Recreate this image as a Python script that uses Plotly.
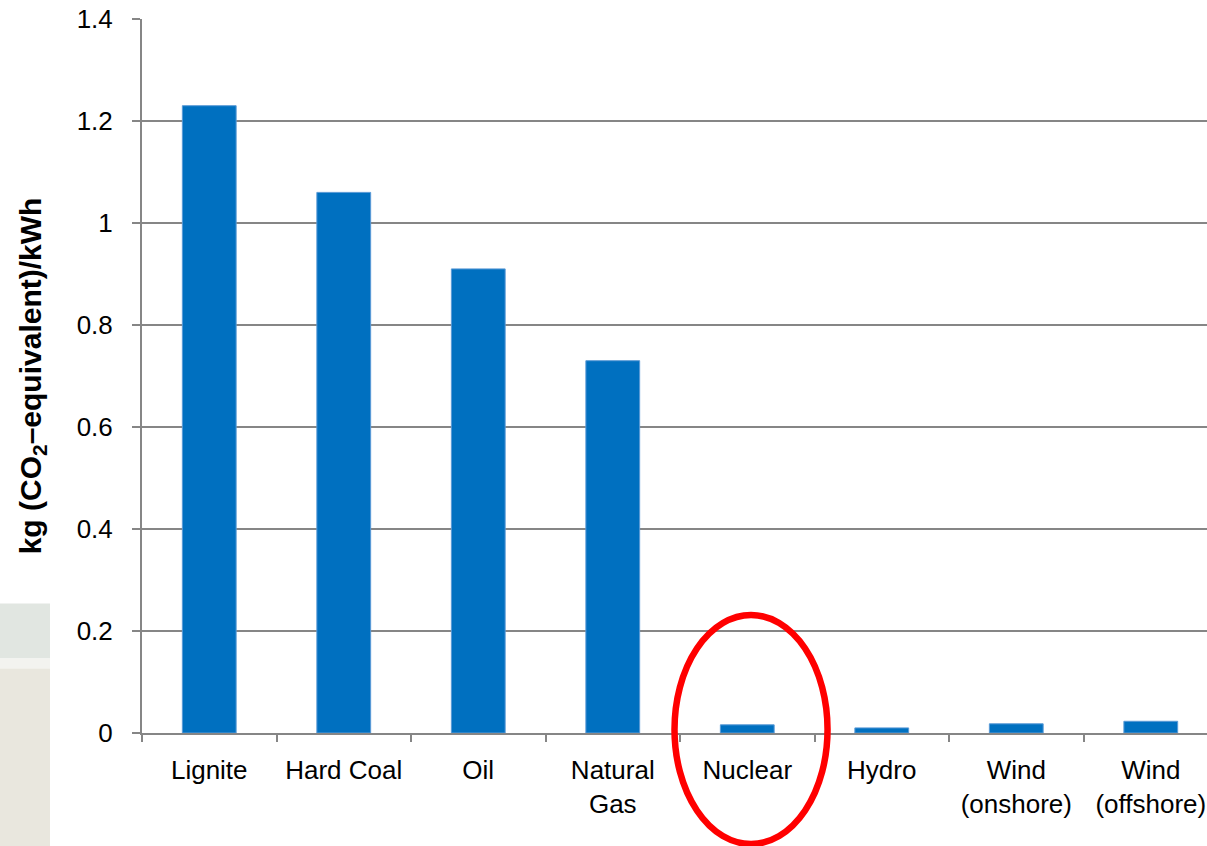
import plotly.graph_objects as go

# Life-cycle greenhouse gas emissions per kWh by generation technology
categories = ["Lignite", "Hard Coal", "Oil", "Natural<br>Gas", "Nuclear",
              "Hydro", "Wind<br>(onshore)", "Wind<br>(offshore)"]
emissions = [1.23, 1.06, 0.91, 0.73, 0.016, 0.010, 0.018, 0.023]
y_ticks = [0, 0.2, 0.4, 0.6, 0.8, 1, 1.2, 1.4]
y_tick_text = ["0", "0.2", "0.4", "0.6", "0.8", "1", "1.2", "1.4"]

FONT = "Liberation Sans, Arial, sans-serif"
AXIS_GREY = "#868686"

fig = go.Figure(
    go.Bar(
        x=categories,
        y=emissions,
        marker=dict(color="#0070C0", line=dict(color="#5A9AD6", width=1)),
        showlegend=False,
    )
)

fig.update_layout(
    width=1207,
    height=846,
    margin=dict(l=142, r=0, t=19, b=113),
    paper_bgcolor="white",
    plot_bgcolor="white",
    bargap=0.6,
    font=dict(family=FONT, size=26, color="#000000"),
    xaxis=dict(
        type="category",
        range=[-0.5, 7.418],
        showline=True,
        linecolor=AXIS_GREY,
        linewidth=2,
        ticks="outside",
        tickson="boundaries",
        ticklen=7,
        tickcolor=AXIS_GREY,
        tickwidth=1.5,
        showgrid=False,
        tickfont=dict(family=FONT, size=26, color="#000000"),
        ticklabelstandoff=13,
    ),
    yaxis=dict(
        range=[0, 1.4],
        tickvals=y_ticks,
        ticktext=y_tick_text,
        showline=True,
        linecolor=AXIS_GREY,
        linewidth=2,
        ticks="outside",
        ticklen=8,
        tickcolor=AXIS_GREY,
        tickwidth=1.5,
        showgrid=True,
        gridcolor=AXIS_GREY,
        gridwidth=1.5,
        zeroline=False,
        tickfont=dict(family=FONT, size=26, color="#000000"),
        ticklabelstandoff=14,
        title=dict(
            text="<b>kg (CO<sub>2</sub>–equivalent)/kWh</b>",
            font=dict(family=FONT, size=30, color="#000000"),
            standoff=26,
        ),
    ),
    shapes=[
        # panel strip in the left margin
        dict(type="rect", xref="paper", yref="paper",
             x0=-0.1334, x1=-0.0864, y0=0.1044, y1=0.1814,
             fillcolor="#E1E6E1", line=dict(width=0), layer="below"),
        dict(type="rect", xref="paper", yref="paper",
             x0=-0.1334, x1=-0.0864, y0=0.0904, y1=0.1044,
             fillcolor="#F3F3EF", line=dict(width=0), layer="below"),
        dict(type="rect", xref="paper", yref="paper",
             x0=-0.1334, x1=-0.0864, y0=-0.16, y1=0.0904,
             fillcolor="#E9E7DE", line=dict(width=0), layer="below"),
        # highlight ring around Nuclear
        dict(type="circle", xref="paper", yref="paper",
             x0=0.5, x1=0.6437, y0=-0.1555, y1=0.1653,
             line=dict(color="#FF0000", width=6.5), layer="above"),
    ],
)

fig.write_html("out.html")
